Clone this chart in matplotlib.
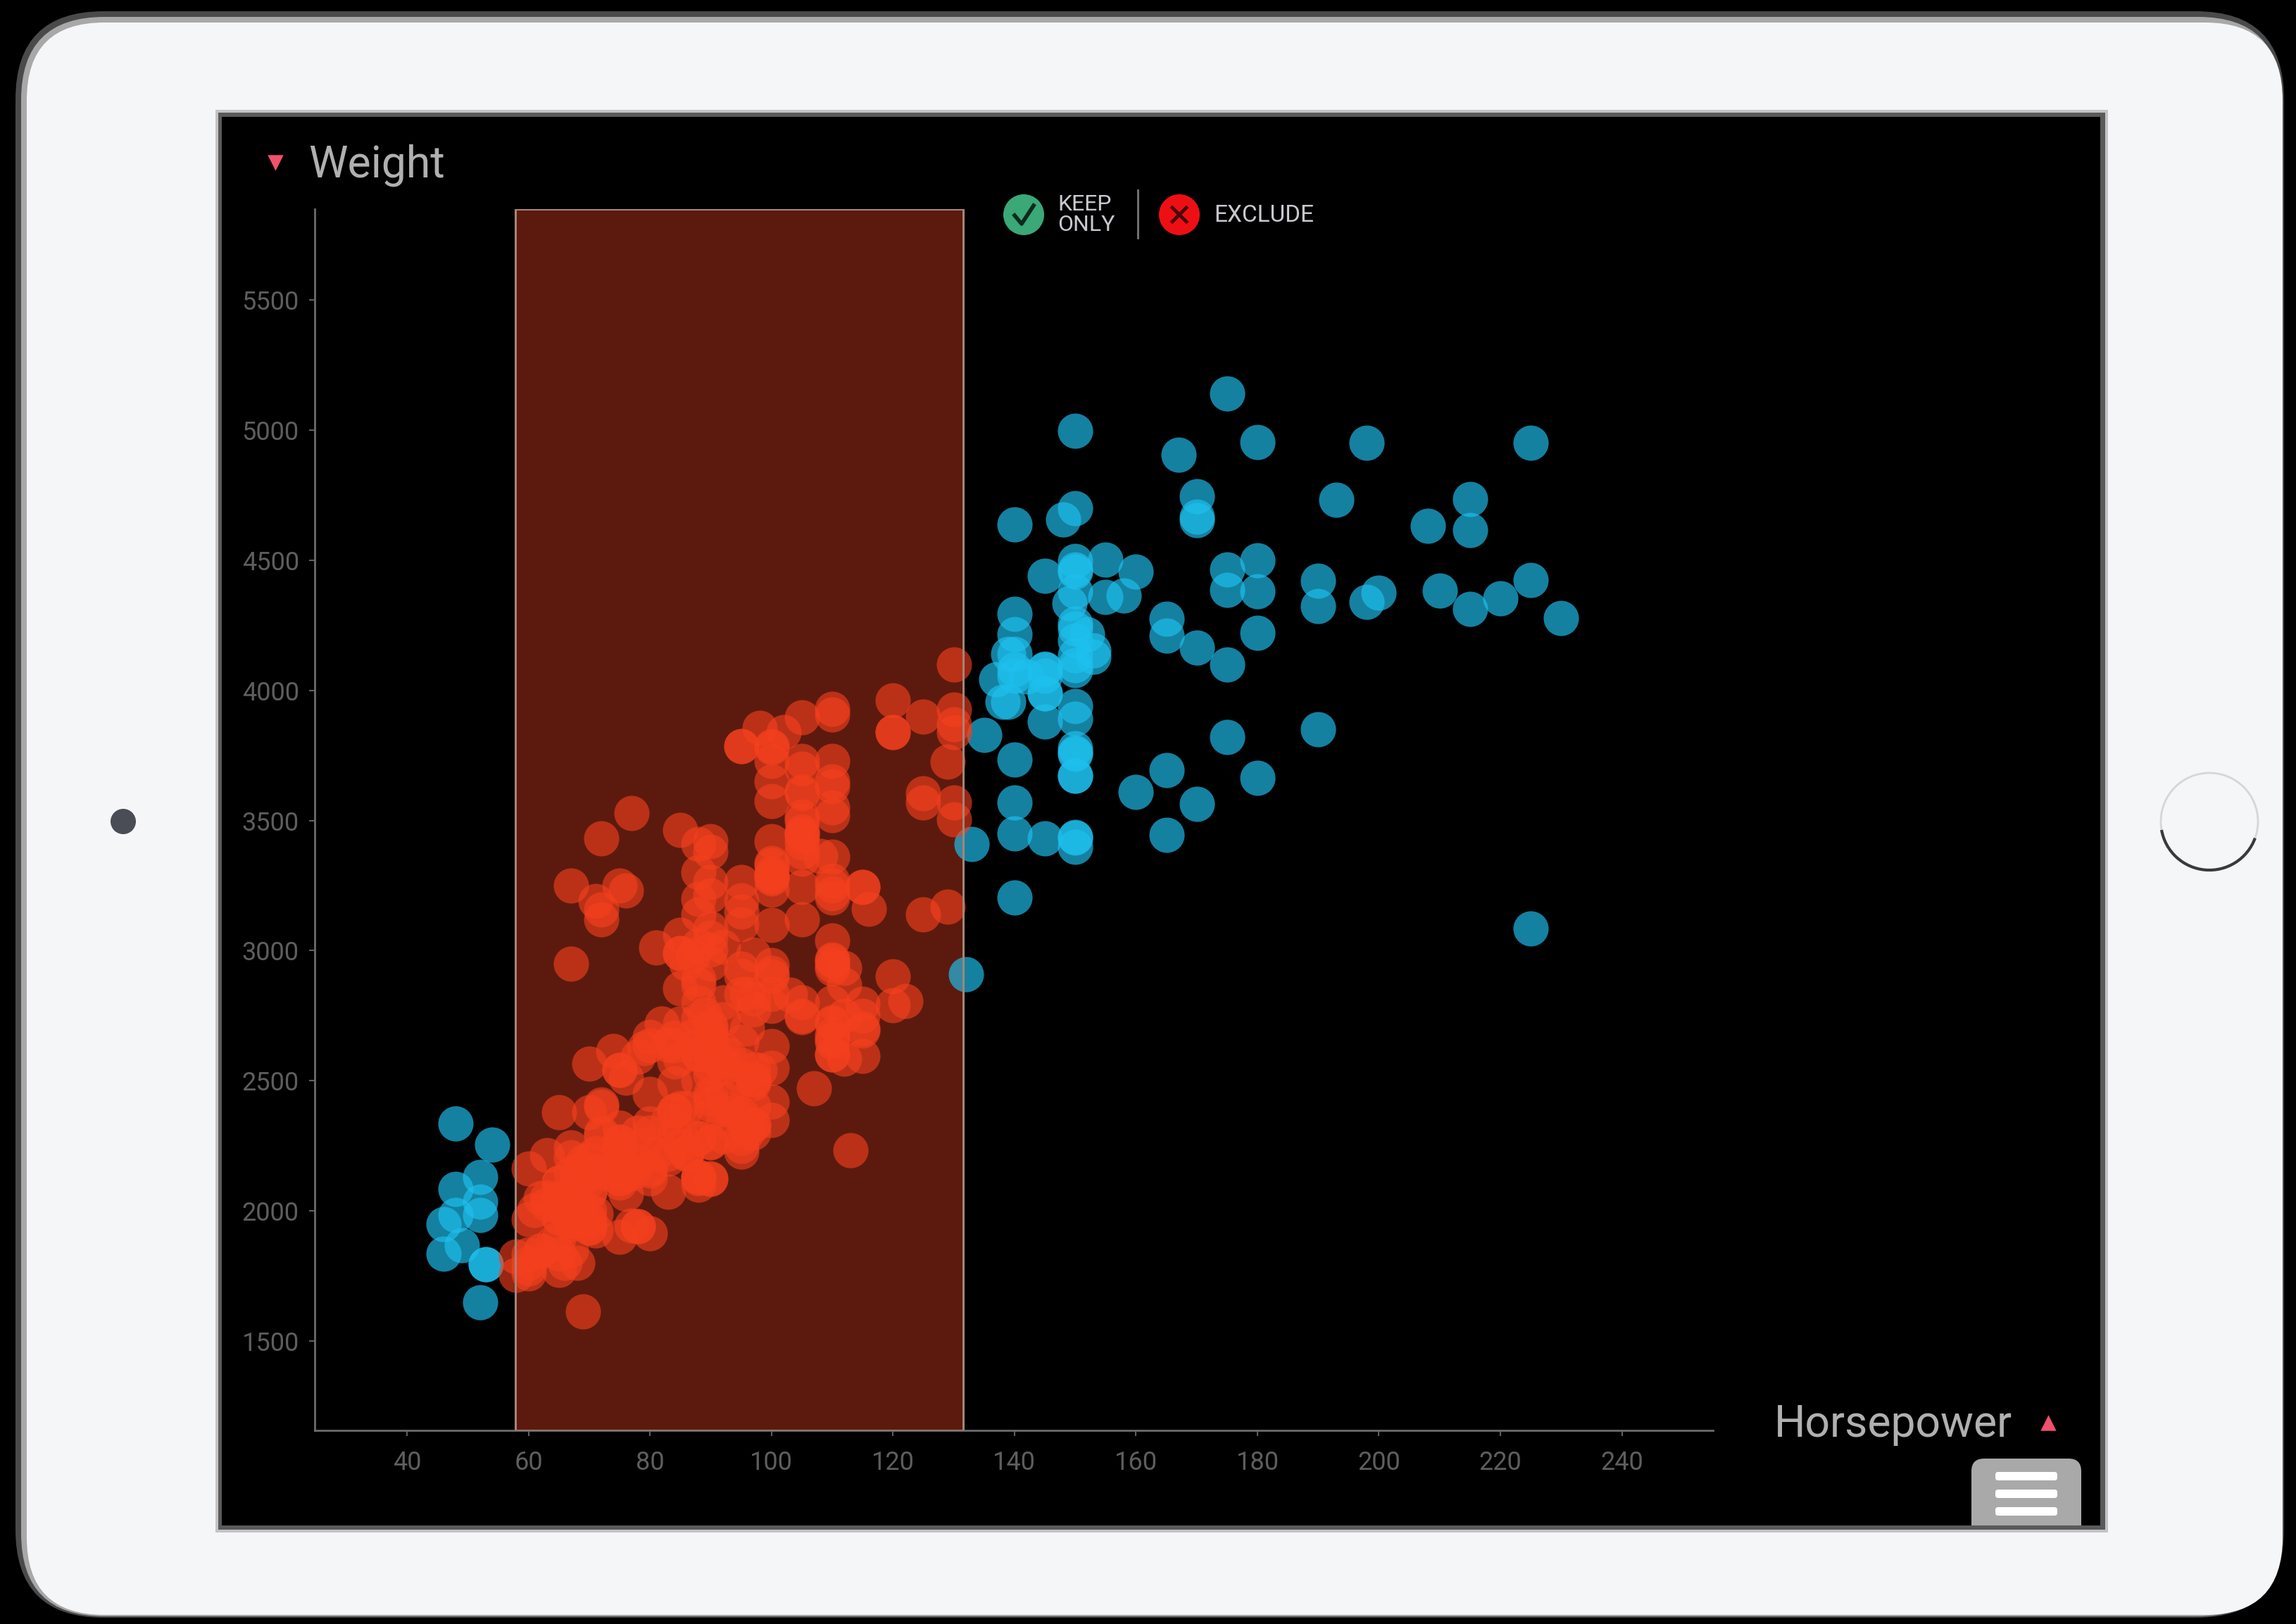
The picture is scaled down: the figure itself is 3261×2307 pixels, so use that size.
"""Scatter of car weight vs horsepower with a brushed range, shown on a tablet mockup."""
import matplotlib
matplotlib.use("Agg")
import matplotlib.pyplot as plt
import numpy as np
from matplotlib.patches import Circle, FancyBboxPatch, Rectangle, Arc

plt.rcParams["font.family"] = ["Roboto", "Liberation Sans", "DejaVu Sans"]

horsepower = [
    130, 165, 150, 150, 140, 198, 220, 215, 225, 190, 170, 160, 150, 225, 95, 95, 97, 85, 88, 46, 87, 90, 95, 113, 90, 215, 200, 210, 193,
    88, 90, 95, 100, 105, 100, 88, 100, 165, 175, 153, 150, 180, 170, 175, 110, 72, 100, 88, 86, 90, 70, 76, 65, 69, 60, 70, 95, 80, 54, 90, 86,
    165, 175, 150, 153, 150, 208, 155, 160, 190, 97, 150, 130, 140, 150, 112, 76, 87, 69, 86, 92, 97, 80, 88,
    175, 150, 145, 137, 150, 198, 150, 158, 150, 215, 225, 175, 105, 100, 100, 88, 95, 46, 150, 167, 170, 180, 100, 88, 72, 94, 90, 85, 107, 90, 145, 230, 49, 75, 91, 112, 150, 110, 122, 180,
    95, 100, 100, 67, 80, 65, 75, 100, 110, 105, 140, 150, 150, 140, 150, 83, 67, 78, 52, 61, 75, 75, 75, 97, 93, 67,
    95, 105, 72, 72, 170, 145, 150, 148, 110, 105, 110, 95, 110, 110, 129, 75, 83, 100, 78, 96, 71, 97, 97, 70, 90, 95, 88, 98, 115,
    53, 86, 81, 92, 79, 83, 140, 150, 120, 152, 100, 105, 81, 90, 52, 60, 70, 53, 100, 78, 110, 95, 105, 70, 75, 72, 102, 150, 105, 108, 120, 180, 145, 130, 150, 68, 80, 58, 96, 70,
    145, 110, 145, 130, 110, 105, 100, 98, 180, 170, 190, 149, 78, 88, 75, 89, 63, 83, 67, 78, 97, 110, 110,
    48, 66, 52, 70, 60, 110, 140, 139, 105, 95, 85, 88, 100, 100, 105, 85, 110, 120, 145, 165, 139, 140, 68, 95, 97, 75, 95, 105, 85, 97, 103, 125, 115, 133, 71, 68, 115, 85, 88, 90, 110, 130, 129, 138, 135, 155, 142, 125, 150, 71, 65, 80, 80, 77, 125, 71, 90, 70, 70, 65, 69, 90, 115, 115, 90, 76, 60, 70, 65, 90, 88, 90,
    90, 78, 90, 75, 92, 75, 65, 105, 65, 48, 48, 67, 67, 67, 67, 62, 132, 100, 88, 72, 84, 84, 92, 110, 84, 58, 64, 60, 67, 65, 62, 68, 63, 65, 65, 74, 75, 75, 100, 74, 80, 76, 116, 120, 110, 105, 100, 85, 100, 88, 88, 85, 84, 90, 92, 92, 93, 68, 63, 70, 88, 75, 70, 67, 67, 67, 110, 85, 92, 112, 96, 84, 90, 86, 52, 84, 79, 82,
    77, 80, 84, 95, 110, 100, 120, 125, 67, 77, 72, 105, 110, 115, 130, 110,
    140, 145, 140, 140,
    88, 90, 92, 95, 97, 90, 88, 95, 97, 85, 83, 80, 92, 100, 105, 110, 112, 115, 110, 90, 90, 88, 95, 100, 105, 110, 105, 110, 65, 70, 62, 68, 75, 65, 72, 60,
]
weight = [
    3504, 3693, 3436, 3433, 3449, 4341, 4354, 4312, 4425, 3850, 3563, 3609, 3761, 3086, 2372, 2833, 2774, 2587, 2130, 1835, 2672, 2430, 2375, 2234, 2648, 4615, 4376, 4382, 4732,
    2130, 2264, 2228, 2634, 3439, 3329, 3302, 3288, 4209, 4464, 4154, 4096, 4955, 4746, 5140, 2962, 2408, 3282, 3139, 2220, 2123, 2074, 2065, 1773, 1613, 1834, 1955, 2278, 2126, 2254, 2408, 2226,
    4274, 4385, 4135, 4129, 3672, 4633, 4502, 4456, 4422, 2330, 3892, 4098, 4294, 4077, 2933, 2511, 2979, 2189, 2395, 2288, 2506, 2164, 2100,
    4100, 3672, 3988, 4042, 3777, 4952, 4464, 4363, 4237, 4735, 4951, 3821, 3121, 3278, 2945, 3021, 2904, 1950, 4997, 4906, 4654, 4499, 2789, 2279, 2401, 2379, 2124, 2310, 2472, 2265, 4082, 4278, 1867, 2158, 2582, 2868, 3399, 2660, 2807, 3664,
    3102, 2901, 3336, 1950, 2451, 1836, 2542, 3781, 3632, 3613, 4141, 4699, 4457, 4638, 4257, 2219, 1963, 2300, 1649, 2003, 2125, 2108, 2246, 2489, 2391, 2000,
    3264, 3459, 3432, 3158, 4668, 4440, 4498, 4657, 3907, 3897, 3730, 3785, 3039, 3221, 3169, 2171, 2639, 2914, 2592, 2702, 2223, 2545, 2984, 1937, 3211, 3193, 2279, 2542, 2694,
    1795, 2220, 2220, 2572, 2255, 2202, 4215, 4190, 3962, 4215, 3233, 3353, 3012, 3085, 2035, 2164, 1937, 1795, 3651, 1940, 3270, 2930, 3700, 2380, 3250, 3120, 3840, 4380, 3730, 3365, 3840, 4220, 4055, 3870, 3755, 2045, 2155, 1825, 2300, 2565,
    3988, 3930, 4080, 3925, 3205, 3515, 3575, 3855, 4380, 4165, 4325, 4335, 1940, 2740, 2265, 2755, 2051, 2075, 1985, 2190, 2815, 2600, 2720,
    1985, 1800, 1985, 2070, 1800, 2678, 4080, 3955, 3605, 3785, 2990, 3410, 3420, 3785, 3245, 3465, 3520, 3840, 3880, 3445, 4140, 4055, 2155, 2560, 2300, 2230, 2515, 2745, 2855, 2405, 2830, 3140, 2795, 3410, 1990, 2135, 3245, 2990, 2890, 3265, 3360, 3840, 3725, 3955, 3830, 4360, 4054, 3605, 3940, 1925, 1975, 1915, 2670, 3530, 3900, 3190, 3420, 2200, 2150, 2020, 2130, 2670, 2595, 2700, 2556, 2144, 1968, 2120, 2019, 2678, 2870, 3003,
    3381, 2188, 2711, 2542, 2434, 2265, 2110, 2800, 2110, 2085, 2335, 2950, 3250, 1850, 2145, 1845, 2910, 2420, 2500, 2290, 2490, 2635, 2620, 2725, 2385, 1755, 1875, 1760, 2065, 1975, 2050, 1985, 2215, 2045, 2380, 2190, 2320, 2210, 2350, 2615, 2635, 3230, 3160, 2900, 2930, 3415, 3730, 3060, 3100, 2605, 2640, 2395, 2575, 2525, 2735, 2800, 2600, 1980, 2025, 1970, 2125, 2125, 2160, 2205, 2245, 1965, 2965, 2720, 3015, 2585, 2835, 2665, 2370, 2950, 2130, 2295, 2625, 2720,
    1945, 2335, 2385, 2500, 2600, 2835, 2790, 3570, 1995, 2145, 2300, 3380, 3250, 3245, 3570, 2945,
    3205, 3430, 3735, 3570,
    2600, 2450, 2350, 2250, 2500, 2700, 2800, 2650, 2330, 2250, 2350, 2300, 2550, 2550, 2750, 2650, 2750, 2750, 2800, 2950, 3050, 3200, 3150, 3300, 3500, 3550, 3450, 3650, 1900, 2000, 1850, 1800, 1900, 2050, 2150, 1780,
]
x_ticks = [40, 60, 80, 100, 120, 140, 160, 180, 200, 220, 240]
y_ticks = [1500, 2000, 2500, 3000, 3500, 4000, 4500, 5000, 5500]
brush_range = [57.8, 131.6]

W, H = 3261, 2307
horsepower = np.array(horsepower)
weight = np.array(weight)
selected = (horsepower >= brush_range[0]) & (horsepower <= brush_range[1])

fig = plt.figure(figsize=(W / 100, H / 100), dpi=100, facecolor="black")

# tablet body, in pixel coords
bg = fig.add_axes([0, 0, 1, 1], zorder=0)
bg.set_xlim(0, W); bg.set_ylim(H, 0); bg.axis("off")
bg.add_patch(FancyBboxPatch((22, 16), 3222, 2282, boxstyle="round,pad=0,rounding_size=125", fc="#4a4a4a", ec="none", zorder=0))
bg.add_patch(FancyBboxPatch((30, 24), 3210, 2272, boxstyle="round,pad=0,rounding_size=118", fc="#a8a8a8", ec="none", zorder=0.5))
bg.add_patch(FancyBboxPatch((38, 32), 3204, 2262, boxstyle="round,pad=0,rounding_size=110", fc="#f5f6f8", ec="none", zorder=1))
bg.add_patch(Rectangle((306, 156), 2688, 2021, fc="#c4c4c6", ec="none", zorder=2))
bg.add_patch(Rectangle((310, 160), 2680, 2013, fc="#5a5a5a", ec="none", zorder=2.5))
screen = Rectangle((315, 166), 2668, 2001, fc="black", ec="none", zorder=3)
bg.add_patch(screen)
bg.add_patch(Circle((175, 1167), 18, fc="#4a4d55", ec="none", zorder=4))
bg.add_patch(Circle((3138, 1167), 69, fc="#f5f6f8", ec="#d5d6d8", lw=2, zorder=4))
bg.add_patch(Arc((3138, 1167), 138, 138, theta1=20, theta2=170, color="#3a3a3a", lw=3, zorder=5))

# menu button, cut off by the screen bottom
button = FancyBboxPatch((2800, 2072), 156, 130, boxstyle="round,pad=0,rounding_size=18", fc="#a9a9a9", ec="none", zorder=4)
bg.add_patch(button)
button.set_clip_path(screen)
for yb in (2097, 2122, 2147):
    bg.add_patch(FancyBboxPatch((2834, yb - 6), 88, 12, boxstyle="round,pad=0,rounding_size=4", fc="white", ec="none", zorder=6))

# axis titles and filter buttons
bg.text(438, 235, "Weight", color="#b0b0b0", fontsize=45, va="center", ha="left", zorder=6)
bg.text(2520, 2024, "Horsepower", color="#b0b0b0", fontsize=45, va="center", ha="left", zorder=6)
bg.scatter([391], [231], marker="v", s=260, color="#f2506c", linewidths=0, zorder=6)
bg.scatter([2909], [2021], marker="^", s=260, color="#f2506c", linewidths=0, zorder=6)
bg.add_patch(Circle((1454, 305), 29, fc="#3aa877", ec="none", zorder=6))
bg.plot([1441, 1451, 1468], [306, 318, 292], color="#0b2a1c", lw=4, zorder=7)
bg.text(1502, 305, "KEEP\nONLY", color="#c8c8d0", fontsize=23, linespacing=1.0, va="center", ha="left", zorder=6)
bg.plot([1616, 1616], [270, 338], color="#777777", lw=2, zorder=6)
bg.add_patch(Circle((1675, 305), 29, fc="#ee0f14", ec="none", zorder=6))
bg.plot([1665, 1685], [295, 315], color="#4a0608", lw=3.5, zorder=7)
bg.plot([1665, 1685], [315, 295], color="#4a0608", lw=3.5, zorder=7)
bg.text(1724, 306, "EXCLUDE", color="#c8c8d0", fontsize=24, va="center", ha="left", zorder=6)

ax = fig.add_axes([447 / W, 1 - 2032 / H, (2433 - 447) / W, (2032 - 297) / H], zorder=2)
ax.patch.set_alpha(0)
ax.set_xlim(24.8, 255)
ax.set_ylim(1157, 5849)
ax.axvspan(*brush_range, fc="#5c1a0e", ec="none", zorder=1)
ax.scatter(horsepower[~selected], weight[~selected], s=1300, color="#1ec0ee", alpha=0.68, linewidths=0, zorder=2, clip_on=False)
ax.scatter(horsepower[selected], weight[selected], s=1300, color="#f5401e", alpha=0.62, linewidths=0, zorder=3, clip_on=False)
ax.axvspan(*brush_range, fc="none", ec="#a58478", lw=2.2, zorder=4)

for s in ("top", "right"):
    ax.spines[s].set_visible(False)
for s in ("left", "bottom"):
    ax.spines[s].set_color("#6c6c6c")
    ax.spines[s].set_linewidth(2)
ax.set_xticks(x_ticks)
ax.set_yticks(y_ticks)
ax.tick_params(colors="#5e5e5e", labelsize=26, length=6, width=1.5)
ax.tick_params(axis="x", pad=14)
ax.tick_params(axis="y", pad=10)

fig.savefig("out.png", dpi=100, facecolor="black")
